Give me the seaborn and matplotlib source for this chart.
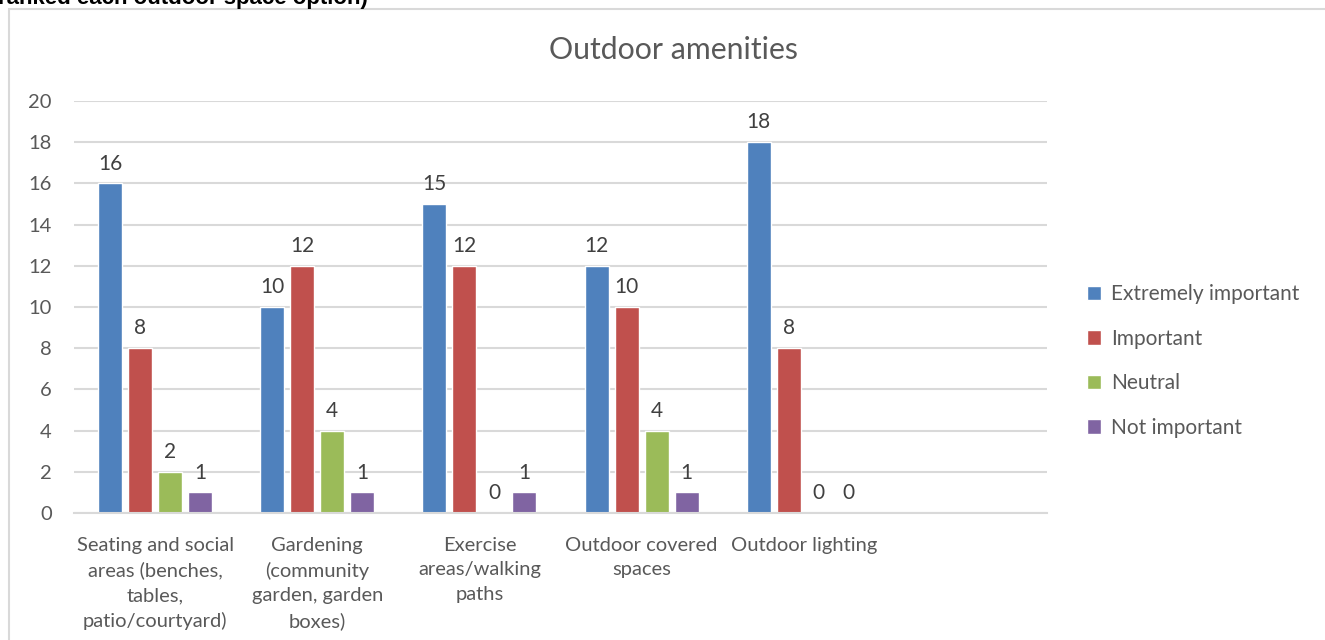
import matplotlib
matplotlib.use("Agg")
import matplotlib.pyplot as plt
from matplotlib.patches import Rectangle
import pandas as pd
import seaborn as sns

# Survey results: how residents rated each outdoor amenity
categories = [
    "Seating and social\nareas (benches,\ntables,\npatio/courtyard)",
    "Gardening\n(community\ngarden, garden\nboxes)",
    "Exercise\nareas/walking\npaths",
    "Outdoor covered\nspaces",
    "Outdoor lighting",
]
ratings = ["Extremely important", "Important", "Neutral", "Not important"]
extremely_important = [16, 10, 15, 12, 18]
important = [8, 12, 12, 10, 8]
neutral = [2, 4, 0, 4, 0]
not_important = [1, 1, 1, 1, 0]
palette = ["#4F81BD", "#C0504D", "#9BBB59", "#8064A2"]

rows = []
for rating, values in zip(ratings, [extremely_important, important, neutral, not_important]):
    for cat, v in zip(categories, values):
        rows.append({"Amenity": cat, "Rating": rating, "Count": v})
df = pd.DataFrame(rows)

sns.set_theme(style="white")
plt.rcParams["font.family"] = ["Lato", "DejaVu Sans"]

text_grey = "#595959"
grid_grey = "#D9D9D9"

fig = plt.figure(figsize=(13.25, 6.4), dpi=100)
ax = fig.add_axes([74 / 1325, 1 - 513 / 640, (1047 - 74) / 1325, (513 - 101) / 640])

sns.barplot(
    data=df, x="Amenity", y="Count", hue="Rating",
    order=categories, hue_order=ratings, palette=palette,
    width=0.74, gap=0.2, saturation=1, ax=ax, legend=True,
)

for container in ax.containers:
    ax.bar_label(container, padding=7, fontsize=15, color="#404040")

ax.set_xlim(-0.5, len(categories) + 0.5)
ax.set_ylim(0, 20)
ax.set_yticks(range(0, 21, 2))
ax.yaxis.grid(True, color=grid_grey, linewidth=1.5)
ax.set_axisbelow(True)
for side in ["top", "right", "left"]:
    ax.spines[side].set_visible(False)
ax.spines["bottom"].set_color(grid_grey)
ax.spines["bottom"].set_linewidth(1.5)
ax.set_xlabel("")
ax.set_ylabel("")
ax.tick_params(axis="y", length=0, pad=16, labelsize=14.5, labelcolor=text_grey)
ax.tick_params(axis="x", length=0, pad=17, labelsize=14.5, labelcolor=text_grey)
ax.set_xticks(range(len(categories)))
ax.set_xticklabels(categories, linespacing=1.54, va="top")

handles, labels = ax.get_legend_handles_labels()
ax.get_legend().remove()
fig.legend(
    handles, labels, loc="center left", bbox_to_anchor=(1068 / 1325, 1 - 361 / 640),
    frameon=False, fontsize=15, labelcolor=text_grey,
    handlelength=0.7, handleheight=0.7, handletextpad=0.45, labelspacing=1.17,
)

fig.text(673 / 1325, 1 - 50 / 640, "Outdoor amenities", ha="center", va="center",
         fontsize=21.8, color=text_grey)

# Chart frame
fig.patches.append(Rectangle((9 / 1325, -0.05), 1.1, 1 - 9 / 640 + 0.05,
                             transform=fig.transFigure, fill=False,
                             edgecolor=grid_grey, linewidth=1.5))

# Tail of the question heading above the chart
fig.text(-2 / 1325, 1 - 4 / 640, "ranked each outdoor space option)", ha="left",
         va="baseline", fontsize=16, fontweight="bold", color="black",
         family=["Liberation Sans", "DejaVu Sans"])

fig.savefig("out.png", dpi=100)
